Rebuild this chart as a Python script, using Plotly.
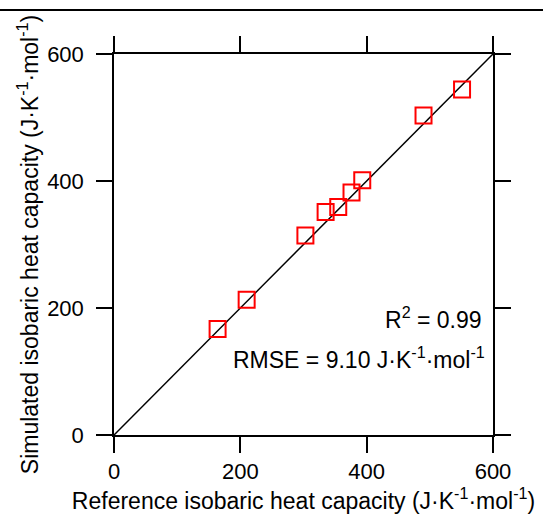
import plotly.graph_objects as go

ref_cp = [164, 210, 303, 335, 355, 376, 393, 490, 551]
sim_cp = [167, 213, 314, 351, 359, 382, 401, 503, 544]
ticks = [0, 200, 400, 600]
diag = [0, 600]

font = "Liberation Sans, Arial, sans-serif"
fig = go.Figure()
fig.add_trace(go.Scatter(x=diag, y=diag, mode="lines",
                         line=dict(color="black", width=1.5), showlegend=False))
fig.add_trace(go.Scatter(x=ref_cp, y=sim_cp, mode="markers",
                         marker=dict(symbol="square-open", size=16, color="red",
                                     line=dict(width=2, color="red")),
                         showlegend=False))

axis_common = dict(range=[0, 600], tickvals=ticks, ticks="outside", ticklen=16,
                   tickwidth=1.5, tickcolor="black", showline=True, linecolor="black",
                   linewidth=1.5, mirror="allticks", showgrid=False, zeroline=False,
                   tickfont=dict(family=font, size=22, color="black"))
fig.update_xaxes(**axis_common,
                 title=dict(text="Reference isobaric heat capacity (J·K<sup>-1</sup>·mol<sup>-1</sup>)",
                            font=dict(family=font, size=23, color="black"), standoff=2))
fig.update_yaxes(**axis_common, ticklabelstandoff=8,
                 title=dict(text="Simulated isobaric heat capacity (J·K<sup>-1</sup>·mol<sup>-1</sup>)",
                            font=dict(family=font, size=23, color="black"), standoff=2))

fig.add_annotation(x=585, y=184, xref="x", yref="y", xanchor="right", yanchor="middle",
                   text="R<sup>2</sup> = 0.99", showarrow=False,
                   font=dict(family=font, size=23, color="black"))
fig.add_annotation(x=591, y=121, xref="x", yref="y", xanchor="right", yanchor="middle",
                   text="RMSE = 9.10 J·K<sup>-1</sup>·mol<sup>-1</sup>", showarrow=False,
                   font=dict(family=font, size=23, color="black"))

fig.add_shape(type="line", xref="paper", yref="paper", x0=-0.5, x1=1.5, y0=1.1155, y1=1.1155,
              line=dict(color="black", width=2))

fig.update_layout(width=543, height=516, margin=dict(l=114, r=50, t=54, b=81),
                  plot_bgcolor="white", paper_bgcolor="white")
fig.write_html("out.html")
